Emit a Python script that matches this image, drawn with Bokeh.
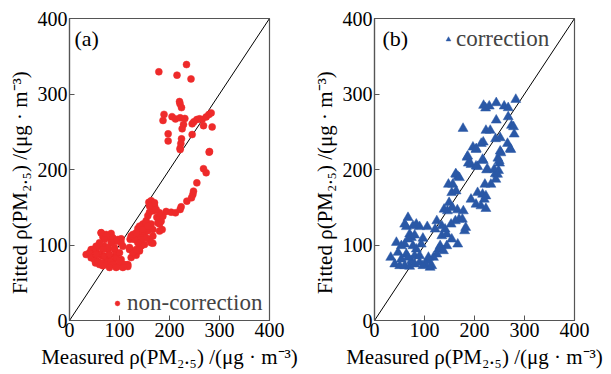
from bokeh.plotting import figure
from bokeh.layouts import row
from bokeh.models import Legend, LegendItem, Label, Range1d, FixedTicker
from bokeh.embed import file_html
from bokeh.resources import INLINE

# ---------------- data ----------------
ticks = [0, 100, 200, 300, 400]
diag = [0, 400]

# panel (a): non-correction  (measured, fitted)
meas_a = [178.7, 215, 234, 243, 220, 221, 224, 189, 187, 205, 212, 221.3, 230.7, 228, 225.3,
          245.3, 248.7, 254.7, 260, 265.3, 273.3, 278.7, 283.3, 285.3, 268, 245.3, 197.3, 197.3,
          224, 222.7, 221.3, 280, 268, 273.3,
          33.3, 43.3, 46.7, 52, 60, 63.3, 66.7, 73.3, 80, 86.7, 70, 56.7, 53.3, 76.7, 90, 66.7,
          80, 93.3, 73.3, 86.7, 100, 110, 116.7, 103.3, 96.7, 103.3, 120, 123.3, 133.3, 140,
          143.3, 130, 140, 150, 156.7, 166.7, 146.7, 153.3, 156.7, 160, 158.7, 163.3, 170, 168,
          174.7, 180, 185.3, 180, 163.3, 143.3, 136.7, 128, 121.3, 193.3, 203.3, 212, 221.3,
          223.3, 234.7, 244, 246.7, 248, 254.7, 279.3, 221.3,
          63.3, 83.3, 73.3, 86.7, 70, 60, 53.3, 46.7, 40, 43.3, 50, 56.7, 63.3, 73.3, 83.3, 93.3,
          100, 106.7, 103.3, 93.3, 83.3, 76.7, 66.7, 60, 70, 80, 90, 96.7, 86.7, 100, 110, 116.7,
          106.7, 93.3, 80, 66.7, 53.3, 120, 126.7, 133.3, 140, 150, 163.3, 166.7, 160, 153.3,
          143.3, 136.7, 130, 123.3, 126.7, 133.3, 140, 146.7, 153.3, 156.7, 166.7, 180, 183.3,
          176.7, 186.7, 180, 173.3, 163.3, 170, 160, 166.7]
fit_a = [329.4, 325, 339, 320, 290, 287, 282, 273, 265, 270, 267, 268.5, 267.6, 259.6, 253.9,
         260.5, 263.2, 266.2, 267.1, 266.2, 269.7, 272.8, 275, 256.4, 258.1, 246.3, 247.2, 237.9,
         240.6, 234.4, 228.3, 223.8, 201, 195.7,
         87.4, 94, 84.3, 76.3, 74.1, 116.2, 110.9, 114, 109.5, 105.1, 98.4, 98.4, 94, 94, 94,
         85.2, 85.2, 87.4, 78.6, 76.3, 74.1, 72.8, 74.1, 80.7, 107.3, 108.2, 96.7, 83.4, 86.5,
         92.2, 98.8, 109.9, 114.4, 116.6, 118.8, 102.4, 127.8, 132.2, 138.8, 143.3, 156.5,
         158.7, 152.1, 145.5, 136.7, 134.5, 120.4, 127.8, 127.8, 109.9, 121.8, 111.2, 107.7,
         144.4, 143.5, 142.6, 147.1, 150.6, 158.1, 162.5, 166.9, 171.3, 182.3, 223, 226.5,
         116.2, 115.3, 111.8, 109.5, 107.3, 102.9, 98.4, 94, 89.6, 83, 80.7, 78.5, 76.3, 74.1,
         78.5, 83, 89.6, 98.4, 102.9, 105.1, 102.9, 96.3, 94, 87.4, 85.2, 87.4, 96.3, 72, 74.1,
         78.5, 74.1, 71.4, 70.3, 70.3, 70.3, 72.5, 87.4, 94, 89.6, 94, 96.3, 100.7, 102.9,
         111.8, 107.3, 109.5, 107.3, 102.9, 107.3, 111.8, 114, 116.2, 125, 120.6, 129.4, 125,
         120.6, 118.4, 131.6, 129.4, 138.2, 142.6, 147.1, 153.7, 155.9, 151.5]

# panel (b): correction  (measured, fitted)
meas_b = [177.1, 218.2, 222.2, 229.5, 243.5, 259.4, 267.4, 282.6, 267.4, 243.5, 274, 278, 279.4,
          222.9, 231.5, 242.1, 251.4, 217.5, 213.5, 196.9, 203.5, 266, 271.4, 251.4, 185.1,
          187.7, 206.3, 217.5, 224.2, 246.8, 250.1, 248.1, 241.5, 162.3, 167,
          186.4, 193, 203, 216.2, 226.2, 203, 252.7, 272.6, 249.4, 239.4, 246, 242.7, 232.8,
          220.8, 206.2, 216.2, 222.8, 219.5, 193, 203, 212.9, 222.8, 163.2, 169.8, 147.9, 156.5,
          154.5, 163.2, 149.2, 139.2, 145.9, 155.8, 165.7, 177.7, 169.1, 175.7, 182.4, 180.3,
          161.8, 153.2, 141.2, 134.6, 124.6, 121.3, 134.6, 144.6, 154.5, 166.5, 144.6, 131.3,
          128, 137.9, 124.6, 117.9, 107.9, 107.9, 101.3, 111.2, 114.5, 105.5, 90.2, 83.6, 67,
          60.4, 63.7, 77, 70.3, 73.7, 80.3, 67, 60.4, 43.8, 53.7, 76.9, 83.6, 93.5, 96.8, 47.1,
          63.7, 80.3, 90.2, 32.5, 40.5, 50.4, 60.4, 70.3, 80.3, 90.2, 96.8, 73.7, 67, 53.7]
fit_b = [254.3, 284.8, 281.3, 283.9, 288.3, 283.9, 281.7, 292.7, 269.7, 265.3, 258.3, 256.5,
         246.8, 251.7, 251.7, 240.6, 241.9, 236.2, 234.4, 229.5, 227.3, 234.4, 227.3, 224.2,
         216.2, 208.3, 203.8, 211.7, 199.4, 214.9, 208.3, 198.5, 194.1, 194.1, 190.6,
         217.6, 206.6, 226.5, 213.3, 200.1, 204.4, 222, 226.5, 211.5, 200.1, 193.5, 186.9, 180.3,
         180.3, 169.3, 167.1, 164.9, 160.5, 160.5, 153.9, 151.7, 148.2, 193.5, 189.1, 180.3,
         180.3, 169.3, 171.5, 156.1, 147.3, 145.1, 149.5, 146.4, 145.1, 134.1, 134.1, 123.1,
         118.7, 131.9, 127.5, 120.9, 125.3, 131.9, 120.9, 112.1, 114.3, 107.7, 101.1, 98.9,
         98.9, 94.5, 92.3, 87.9, 83.5, 79.1, 83.5, 74.7, 70.3, 72.5, 124.2, 124.2, 127.5, 136.3,
         127.5, 124.2, 125.3, 114.3, 109.9, 113, 107.7, 101.1, 103.3, 98.9, 98.9, 94.5, 101.1,
         108.8, 90.1, 87.9, 85.7, 85.7, 83.5, 74.7, 72.5, 72.5, 71.6, 74.7, 76.9, 72.5, 79.1,
         83.5, 81.3]

SERIF = "Liberation Serif"
AXIS_COLOR = "#555555"
X_LABEL = "Measured \u03c1(PM\u2082.\u2085) /(\u03bcg \u00b7 m\u207b\u00b3)"
Y_LABEL = "Fitted \u03c1(PM\u2082.\u2085) /(\u03bcg \u00b7 m\u207b\u00b3)" + "\u00a0" * 5


def make_panel(xs, ys, marker, color, size, tag, tag_x, legend_text, legend_loc,
               standoff, left_border, right_border):
    p = figure(frame_width=200, frame_height=302,
               min_border_left=left_border, min_border_right=right_border,
               min_border_top=18, min_border_bottom=45,
               x_range=Range1d(0, 400), y_range=Range1d(0, 400),
               output_backend="svg", toolbar_location=None)
    p.grid.visible = False
    p.outline_line_color = AXIS_COLOR
    p.outline_line_width = 1.2
    p.background_fill_color = "white"
    p.border_fill_color = "white"

    for ax in (p.xaxis[0], p.yaxis[0]):
        ax.ticker = FixedTicker(ticks=ticks)
        ax.major_tick_in = 5
        ax.major_tick_out = 0
        ax.minor_tick_in = 0
        ax.minor_tick_out = 0
        ax.axis_line_color = AXIS_COLOR
        ax.axis_line_width = 1.2
        ax.major_tick_line_color = AXIS_COLOR
        ax.major_label_text_font = SERIF
        ax.major_label_text_font_size = "20px"
        ax.major_label_text_color = "black"
        ax.axis_label_text_font = SERIF
        ax.axis_label_text_font_size = "21px"
        ax.axis_label_text_font_style = "normal"
        ax.axis_label_text_color = "black"
        ax.major_label_standoff = 2
    p.xaxis.axis_label_standoff = 5
    p.yaxis.axis_label_standoff = 3

    p.xaxis.axis_label = X_LABEL
    p.yaxis.axis_label = Y_LABEL

    p.line(diag, diag, line_color="black", line_width=1)
    r = p.scatter(xs, ys, marker=marker, size=size, fill_color=color,
                  line_color=color, line_width=0.5)

    legend = Legend(items=[LegendItem(label=legend_text, renderers=[r])],
                    location=legend_loc, background_fill_alpha=0,
                    border_line_alpha=0, label_text_font=SERIF,
                    label_text_font_size="23px", glyph_width=12,
                    label_standoff=standoff, padding=0, margin=0, spacing=0,
                    label_height=24, glyph_height=24)
    p.add_layout(legend)

    p.add_layout(Label(x=tag_x, y=390, text=tag,
                       text_font=SERIF, text_font_size="22px",
                       text_baseline="top", text_color="black"))
    return p


pa = make_panel(meas_a, fit_a, "circle", "#EE2A2A", 7, "(a)", 10, "non-correction",
                (42, 4), 4, 69, 40)
pb = make_panel(meas_b, fit_b, "triangle", "#2A58A6", 10, "(b)", 16, "correction",
                (68, 268), 2, 63, 29)

layout = row(pa, pb)
open("out.html", "w").write(file_html(layout, INLINE))
